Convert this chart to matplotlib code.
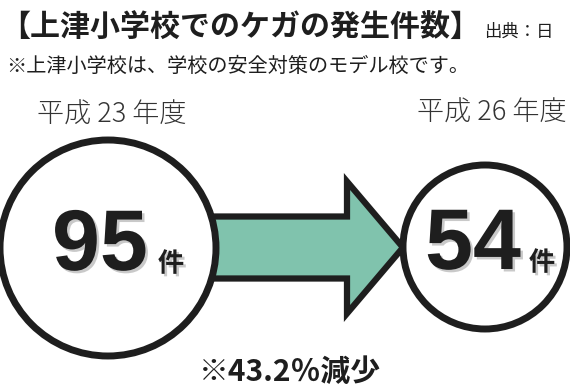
import matplotlib.pyplot as plt
import matplotlib.patches as mpatches
import matplotlib.patheffects as pe

plt.rcParams['font.family'] = ['Noto Sans CJK JP', 'DejaVu Sans']

title = "【上津小学校でのケガの発生件数】"
source = "出典：日"
note = "※上津小学校は、学校の安全対策のモデル校です。"
years = ["平成 23 年度", "平成 26 年度"]
counts = [95, 54]
unit = "件"
reduction = "※43.2％減少"

# layout (pixels, y down)
centers = [(108, 248), (485, 247)]
radii = [108, 82]
arrow_color = "#80c3ad"
ink = "#1e1e1e"

fig = plt.figure(figsize=(5.7, 3.86), dpi=100)
ax = fig.add_axes([0, 0, 1, 1])
ax.set_xlim(0, 570)
ax.set_ylim(386, 0)
ax.set_aspect('equal')
ax.axis('off')

ax.text(0, 28, title, fontsize=21.6, fontweight='bold', color=ink, va='center', ha='left')
ax.text(484, 32, source, fontsize=12.5, color=ink, va='center', ha='left')
ax.text(6, 66, note, fontsize=14.5, color=ink, va='center', ha='left')

# arrow between the circles
x0 = centers[0][0] + radii[0] - 4
x1 = centers[1][0] - radii[1]
ay = (centers[0][1] + centers[1][1]) / 2
arrow = mpatches.FancyArrow(x0, ay, x1 - x0, 0, width=62, head_width=132,
                            head_length=56, length_includes_head=True,
                            facecolor=arrow_color, edgecolor=ink, linewidth=4.5,
                            joinstyle='miter', zorder=1)
ax.add_patch(arrow)

shadow = [pe.SimplePatchShadow(offset=(1.8, -1.8), shadow_rgbFace='#c4c4c4', alpha=0.9), pe.Normal()]
year_x = [112, 492]
year_y = [115, 113]
num_dx = [-8, -12]
unit_dx = [63, 57]
for i in range(2):
    cx, cy = centers[i]
    circ = mpatches.Circle((cx, cy), radii[i], facecolor='white', edgecolor=ink,
                           linewidth=5, zorder=2)
    ax.add_patch(circ)
    ax.text(year_x[i], year_y[i], years[i], fontsize=19.5, color='#333333',
            ha='center', va='center', fontweight='light')
    t = ax.text(cx + num_dx[i], cy, str(counts[i]), family='Liberation Sans',
                fontsize=62, fontweight='bold', color=ink, ha='center',
                va='center', zorder=3)
    t.set_path_effects(shadow)
    u = ax.text(cx + unit_dx[i], cy + 16, unit, fontsize=19, fontweight='bold',
                color=ink, ha='center', va='center', zorder=3)
    u.set_path_effects(shadow)

ax.text(290, 372, reduction, fontsize=21.5, fontweight='bold', color=ink,
        ha='center', va='center')

fig.savefig('out.png', dpi=100)
